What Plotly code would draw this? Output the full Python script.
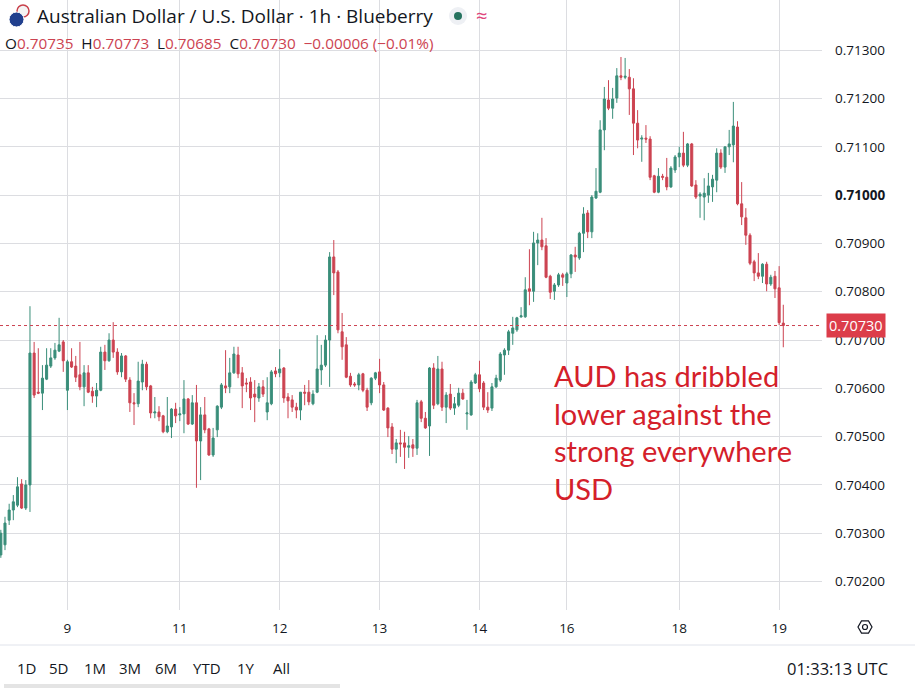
import math
import plotly.graph_objects as go

# AUD/USD 1h candles
opens = [0.70255, 0.70276, 0.70327, 0.70348, 0.70358, 0.70402, 0.70352, 0.70400, 0.70673, 0.70592,
         0.70590, 0.70619, 0.70646, 0.70663, 0.70677, 0.70696, 0.70596, 0.70655, 0.70646, 0.70628,
         0.70603, 0.70632, 0.70594, 0.70584, 0.70596, 0.70675, 0.70657, 0.70700, 0.70675, 0.70634,
         0.70667, 0.70617, 0.70570, 0.70568, 0.70613, 0.70650, 0.70605, 0.70549, 0.70551, 0.70543,
         0.70510, 0.70520, 0.70557, 0.70545, 0.70547, 0.70578, 0.70526, 0.70570, 0.70491, 0.70545,
         0.70516, 0.70462, 0.70514, 0.70561, 0.70605, 0.70603, 0.70632, 0.70669, 0.70632, 0.70611,
         0.70613, 0.70588, 0.70580, 0.70603, 0.70551, 0.70568, 0.70636, 0.70632, 0.70642, 0.70582,
         0.70576, 0.70561, 0.70555, 0.70592, 0.70592, 0.70568, 0.70592, 0.70638, 0.70648, 0.70700,
         0.70872, 0.70841, 0.70717, 0.70690, 0.70625, 0.70609, 0.70607, 0.70630, 0.70596, 0.70570,
         0.70621, 0.70634, 0.70607, 0.70559, 0.70520, 0.70474, 0.70487, 0.70487, 0.70478, 0.70483,
         0.70476, 0.70572, 0.70538, 0.70522, 0.70642, 0.70568, 0.70640, 0.70561, 0.70588, 0.70559,
         0.70565, 0.70590, 0.70547, 0.70545, 0.70611, 0.70628, 0.70611, 0.70561, 0.70559, 0.70603,
         0.70617, 0.70669, 0.70679, 0.70714, 0.70721, 0.70748, 0.70748, 0.70806, 0.70801, 0.70901,
         0.70907, 0.70895, 0.70832, 0.70801, 0.70814, 0.70835, 0.70818, 0.70837, 0.70876, 0.70870,
         0.70921, 0.70963, 0.70924, 0.70994, 0.71006, 0.71135, 0.71197, 0.71180, 0.71201, 0.71247,
         0.71244, 0.71244, 0.71220, 0.71149, 0.71116, 0.71118, 0.71116, 0.71040, 0.71006, 0.71039,
         0.71037, 0.71017, 0.71052, 0.71079, 0.71087, 0.71062, 0.71106, 0.71021, 0.70998, 0.70996,
         0.71000, 0.71017, 0.71031, 0.71087, 0.71058, 0.71100, 0.71104, 0.71141, 0.70982, 0.70953,
         0.70917, 0.70862, 0.70839, 0.70832, 0.70857, 0.70816, 0.70832, 0.70808, 0.70735]
highs = [0.70307, 0.70334, 0.70361, 0.70379, 0.70416, 0.70412, 0.70410, 0.70770, 0.70696, 0.70683,
         0.70648, 0.70683, 0.70683, 0.70694, 0.70746, 0.70700, 0.70659, 0.70683, 0.70667, 0.70696,
         0.70648, 0.70648, 0.70603, 0.70611, 0.70686, 0.70690, 0.70714, 0.70737, 0.70683, 0.70673,
         0.70669, 0.70623, 0.70590, 0.70655, 0.70659, 0.70655, 0.70607, 0.70582, 0.70563, 0.70545,
         0.70582, 0.70559, 0.70570, 0.70561, 0.70617, 0.70580, 0.70586, 0.70607, 0.70561, 0.70582,
         0.70518, 0.70518, 0.70565, 0.70611, 0.70679, 0.70663, 0.70686, 0.70686, 0.70644, 0.70621,
         0.70623, 0.70617, 0.70611, 0.70617, 0.70623, 0.70638, 0.70644, 0.70681, 0.70644, 0.70590,
         0.70586, 0.70570, 0.70592, 0.70607, 0.70617, 0.70596, 0.70710, 0.70690, 0.70710, 0.70882,
         0.70907, 0.70845, 0.70756, 0.70706, 0.70632, 0.70613, 0.70632, 0.70632, 0.70601, 0.70623,
         0.70634, 0.70661, 0.70613, 0.70561, 0.70528, 0.70495, 0.70514, 0.70510, 0.70501, 0.70495,
         0.70576, 0.70576, 0.70551, 0.70644, 0.70652, 0.70667, 0.70655, 0.70592, 0.70609, 0.70582,
         0.70601, 0.70599, 0.70576, 0.70617, 0.70632, 0.70657, 0.70615, 0.70592, 0.70611, 0.70628,
         0.70675, 0.70683, 0.70721, 0.70748, 0.70748, 0.70768, 0.70830, 0.70888, 0.70924, 0.70921,
         0.70953, 0.70911, 0.70835, 0.70818, 0.70839, 0.70839, 0.70841, 0.70878, 0.70893, 0.70924,
         0.70975, 0.70969, 0.71000, 0.71056, 0.71155, 0.71224, 0.71238, 0.71222, 0.71263, 0.71286,
         0.71284, 0.71261, 0.71242, 0.71176, 0.71124, 0.71145, 0.71122, 0.71042, 0.71056, 0.71044,
         0.71077, 0.71060, 0.71083, 0.71100, 0.71131, 0.71108, 0.71108, 0.71031, 0.71006, 0.71035,
         0.71046, 0.71042, 0.71097, 0.71095, 0.71100, 0.71135, 0.71193, 0.71153, 0.71027, 0.70973,
         0.70921, 0.70866, 0.70880, 0.70859, 0.70862, 0.70835, 0.70843, 0.70853, 0.70773]
lows = [0.70249, 0.70265, 0.70317, 0.70327, 0.70354, 0.70350, 0.70348, 0.70344, 0.70580, 0.70588,
        0.70555, 0.70617, 0.70642, 0.70659, 0.70675, 0.70634, 0.70555, 0.70642, 0.70613, 0.70596,
        0.70563, 0.70590, 0.70570, 0.70561, 0.70594, 0.70638, 0.70655, 0.70663, 0.70628, 0.70623,
        0.70613, 0.70551, 0.70524, 0.70561, 0.70596, 0.70596, 0.70538, 0.70538, 0.70532, 0.70507,
        0.70507, 0.70497, 0.70528, 0.70532, 0.70507, 0.70524, 0.70524, 0.70394, 0.70410, 0.70507,
        0.70460, 0.70458, 0.70499, 0.70557, 0.70590, 0.70590, 0.70630, 0.70621, 0.70559, 0.70592,
        0.70555, 0.70530, 0.70572, 0.70582, 0.70534, 0.70565, 0.70623, 0.70623, 0.70570, 0.70538,
        0.70551, 0.70538, 0.70534, 0.70565, 0.70565, 0.70565, 0.70590, 0.70607, 0.70644, 0.70603,
        0.70793, 0.70714, 0.70659, 0.70621, 0.70603, 0.70603, 0.70596, 0.70592, 0.70553, 0.70565,
        0.70617, 0.70590, 0.70553, 0.70499, 0.70464, 0.70445, 0.70458, 0.70433, 0.70456, 0.70458,
        0.70462, 0.70530, 0.70516, 0.70460, 0.70557, 0.70565, 0.70553, 0.70528, 0.70555, 0.70545,
        0.70561, 0.70576, 0.70514, 0.70543, 0.70609, 0.70592, 0.70555, 0.70549, 0.70553, 0.70601,
        0.70613, 0.70628, 0.70669, 0.70690, 0.70717, 0.70746, 0.70746, 0.70772, 0.70779, 0.70855,
        0.70886, 0.70828, 0.70785, 0.70783, 0.70810, 0.70812, 0.70789, 0.70828, 0.70841, 0.70866,
        0.70882, 0.70911, 0.70911, 0.70992, 0.71004, 0.71093, 0.71176, 0.71158, 0.71191, 0.71238,
        0.71240, 0.71166, 0.71083, 0.71097, 0.71069, 0.71108, 0.71031, 0.71004, 0.71004, 0.71031,
        0.71010, 0.71015, 0.71046, 0.71058, 0.71058, 0.71058, 0.71017, 0.70992, 0.70953, 0.70948,
        0.70984, 0.70986, 0.71006, 0.71054, 0.71046, 0.71083, 0.71068, 0.70979, 0.70938, 0.70897,
        0.70855, 0.70822, 0.70826, 0.70818, 0.70801, 0.70812, 0.70787, 0.70731, 0.70685]
closes = [0.70300, 0.70321, 0.70348, 0.70365, 0.70396, 0.70352, 0.70400, 0.70673, 0.70586, 0.70590,
          0.70621, 0.70648, 0.70663, 0.70679, 0.70690, 0.70657, 0.70655, 0.70644, 0.70623, 0.70603,
          0.70632, 0.70592, 0.70584, 0.70596, 0.70675, 0.70657, 0.70700, 0.70675, 0.70634, 0.70667,
          0.70619, 0.70570, 0.70568, 0.70615, 0.70650, 0.70603, 0.70549, 0.70551, 0.70541, 0.70510,
          0.70522, 0.70557, 0.70543, 0.70547, 0.70578, 0.70526, 0.70570, 0.70491, 0.70545, 0.70514,
          0.70462, 0.70497, 0.70563, 0.70607, 0.70601, 0.70632, 0.70671, 0.70630, 0.70605, 0.70609,
          0.70580, 0.70582, 0.70603, 0.70588, 0.70570, 0.70634, 0.70630, 0.70640, 0.70580, 0.70574,
          0.70561, 0.70555, 0.70592, 0.70590, 0.70572, 0.70588, 0.70640, 0.70648, 0.70700, 0.70872,
          0.70839, 0.70721, 0.70686, 0.70623, 0.70607, 0.70607, 0.70628, 0.70596, 0.70561, 0.70621,
          0.70632, 0.70607, 0.70555, 0.70518, 0.70474, 0.70487, 0.70485, 0.70478, 0.70481, 0.70476,
          0.70570, 0.70538, 0.70518, 0.70642, 0.70565, 0.70640, 0.70561, 0.70586, 0.70559, 0.70568,
          0.70590, 0.70578, 0.70549, 0.70613, 0.70628, 0.70599, 0.70561, 0.70555, 0.70603, 0.70621,
          0.70671, 0.70679, 0.70717, 0.70725, 0.70746, 0.70750, 0.70804, 0.70801, 0.70901, 0.70907,
          0.70893, 0.70830, 0.70799, 0.70814, 0.70835, 0.70830, 0.70837, 0.70876, 0.70872, 0.70921,
          0.70961, 0.70924, 0.70996, 0.71008, 0.71135, 0.71199, 0.71180, 0.71199, 0.71247, 0.71244,
          0.71246, 0.71220, 0.71149, 0.71114, 0.71118, 0.71116, 0.71037, 0.71006, 0.71039, 0.71037,
          0.71017, 0.71056, 0.71079, 0.71087, 0.71062, 0.71106, 0.71019, 0.70996, 0.71002, 0.71004,
          0.71019, 0.71033, 0.71087, 0.71058, 0.71100, 0.71106, 0.71143, 0.70982, 0.70955, 0.70917,
          0.70859, 0.70839, 0.70832, 0.70857, 0.70816, 0.70830, 0.70806, 0.70736, 0.70730]
bars = list(range(len(closes)))

# day labels on the time axis (bar index where each day starts)
day_bars = [16, 43, 67, 91, 115, 136, 163, 187]
day_labels = ['9', '11', '12', '13', '14', '16', '18', '19']

price_ticks = [0.702, 0.703, 0.704, 0.705, 0.706, 0.707, 0.708, 0.709, 0.710, 0.711, 0.712, 0.713]

note_lines = ['AUD has dribbled', 'lower against the', 'strong everywhere', 'USD']
range_buttons = ['1D', '5D', '1M', '3M', '6M', 'YTD', '1Y', 'All']

UP = '#3a8e7a'
DOWN = '#cc4351'
TEXT = '#131722'
GRID = '#dcdde1'
FONT = 'Open Sans'

# plot area is 822 x 610 px inside the 915 x 688 page
PW, PH = 822, 610


def px(x):
    return x / PW


def py(y):
    return (PH - y) / PH


fig = go.Figure()
fig.add_trace(go.Candlestick(
    x=bars, open=opens, high=highs, low=lows, close=closes,
    increasing=dict(line=dict(color=UP, width=1), fillcolor=UP),
    decreasing=dict(line=dict(color=DOWN, width=1), fillcolor=DOWN),
    whiskerwidth=0, showlegend=False, hoverinfo='skip',
))

last = closes[-1]
chg = closes[-1] - closes[-2]
pct = chg / closes[-2] * 100


def num(v, fmt):
    return (fmt % v).replace('-', '\u2212')


red_span = "<span style='color:%s'>%s</span>"
ohlc_text = ('O' + red_span % (DOWN, '%.5f' % opens[-1]) +
             '  H' + red_span % (DOWN, '%.5f' % highs[-1]) +
             '  L' + red_span % (DOWN, '%.5f' % lows[-1]) +
             '  C' + red_span % (DOWN, '%.5f' % last) +
             '  ' + red_span % (DOWN, num(chg, '%.5f') + ' (' + num(pct, '%.2f') + '%)'))

annotations = [
    dict(text='Australian Dollar / U.S. Dollar \u00b7 1h \u00b7 Blueberry', x=px(35), y=py(16),
         xanchor='left', yanchor='middle', font=dict(family=FONT, size=19, color=TEXT)),
    dict(text=ohlc_text, x=px(3), y=py(43), xanchor='left', yanchor='middle',
         font=dict(family=FONT, size=15.3, color=TEXT)),
    dict(text='\u2248', x=px(482), y=py(15), xanchor='center', yanchor='middle',
         font=dict(family=FONT, size=20, color='#e0457b')),
    dict(text='<br>'.join(note_lines), x=px(552), y=py(356), xanchor='left', yanchor='top',
         align='left', font=dict(family='Lato', size=29, color='#d4202a')),
    dict(text='%.5f' % last, x=px(826), y=last, yref='y', xanchor='left', yanchor='middle',
         bgcolor='#dc3d4a', borderpad=2, font=dict(family=FONT, size=14.5, color='white')),
    dict(text='01:33:13 UTC', x=px(890), y=py(668), xanchor='right', yanchor='middle',
         font=dict(family=FONT, size=16.5, color=TEXT)),
]
button_x = [26, 59, 95, 130, 166, 207, 246, 281]
for label, bx in zip(range_buttons, button_x):
    annotations.append(dict(text=label, x=px(bx), y=py(668), xanchor='center', yanchor='middle',
                            font=dict(family=FONT, size=15, color=TEXT)))
for a in annotations:
    a.setdefault('xref', 'paper')
    a.setdefault('yref', 'paper')
    a['showarrow'] = False

shapes = [
    # last price dotted line
    dict(type='line', xref='paper', yref='y', x0=0, x1=1, y0=last, y1=last,
         line=dict(color=DOWN, width=1, dash='dot')),
    # separator above the bottom toolbar
    dict(type='line', xref='paper', yref='paper', x0=0, x1=px(915), y0=py(645), y1=py(645),
         line=dict(color='#e0e3eb', width=1)),
    # scrollbar stub
    dict(type='rect', xref='paper', yref='paper', x0=px(4), x1=px(340), y0=py(688), y1=py(684),
         fillcolor='#e4e4e4', line=dict(width=0)),
    # flag icons
    dict(type='circle', xref='paper', yref='paper', x0=px(17), x1=px(29), y0=py(17), y1=py(5),
         fillcolor='#f4f4f4', line=dict(color='#c9414b', width=1.5)),
    dict(type='circle', xref='paper', yref='paper', x0=px(9), x1=px(24), y0=py(27), y1=py(12),
         fillcolor='#21408e', line=dict(color='white', width=1)),
    # status badge
    dict(type='circle', xref='paper', yref='paper', x0=px(449), x1=px(467), y0=py(25), y1=py(7),
         fillcolor='#eef0f4', line=dict(width=0)),
    dict(type='circle', xref='paper', yref='paper', x0=px(454), x1=px(462), y0=py(20), y1=py(12),
         fillcolor='#26735f', line=dict(width=0)),
]
# settings hexagon icon at the end of the time axis
cx, cy, r = 865, 627, 7
hexpts = [(cx + r * math.cos(math.radians(a)), cy + r * math.sin(math.radians(a))) for a in range(0, 360, 60)]
path = 'M ' + ' L '.join('%f,%f' % (px(x), py(y)) for x, y in hexpts) + ' Z'
shapes.append(dict(type='path', xref='paper', yref='paper', path=path, line=dict(color=TEXT, width=1.2)))
shapes.append(dict(type='circle', xref='paper', yref='paper', x0=px(cx - 2.5), x1=px(cx + 2.5),
                   y0=py(cy + 2.5), y1=py(cy - 2.5), line=dict(color=TEXT, width=1.2)))

price_text = ['<b>%.5f</b>' % v if abs(v - 0.710) < 1e-9 else '%.5f' % v for v in price_ticks]

fig.update_layout(
    width=915, height=688,
    margin=dict(l=0, r=93, t=0, b=78),
    paper_bgcolor='white', plot_bgcolor='white',
    font=dict(family=FONT, size=13, color=TEXT),
    annotations=annotations, shapes=shapes,
    xaxis=dict(range=[-0.2, 197.3], tickvals=day_bars, ticktext=day_labels,
               showgrid=True, gridcolor=GRID, gridwidth=1, zeroline=False, showline=False,
               ticks='', ticklabelstandoff=8, rangeslider=dict(visible=False),
               tickfont=dict(family=FONT, size=13.5, color=TEXT)),
    yaxis=dict(side='right', range=[0.70141, 0.71404], tickvals=price_ticks, ticktext=price_text,
               showgrid=True, gridcolor=GRID, gridwidth=1, zeroline=False, showline=False,
               ticks='', ticklabelstandoff=12,
               tickfont=dict(family=FONT, size=13.5, color=TEXT)),
)

# drop the default 8px body margin so the chart sits at the page corner
fig.write_html('out.html', config={'displayModeBar': False},
               post_script="document.body.style.margin = '0';")
